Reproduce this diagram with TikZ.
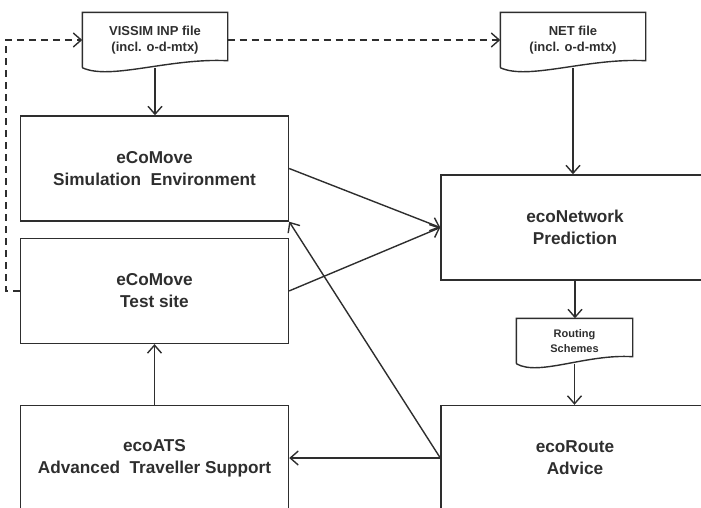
\documentclass[tikz,border=0pt]{standalone}
\usepackage{fontspec}
\setmainfont{Liberation Sans}
\usetikzlibrary{
  arrows.meta,
  calc,
  positioning,
}
\definecolor{ink}{HTML}{2E2E2E}
\tikzset{
  >={Straight Barb[length=8pt,width=14pt]},
  wire/.style={draw=ink, line width=1.4pt},
  block/.style={wire, minimum width=268pt, minimum height=105pt, align=center,
    text=ink, font=\bfseries\fontsize{17.2}{22}\selectfont},
  doc/.style={align=center, text=ink, inner sep=0pt,
    font=\bfseries\fontsize{13}{16}\selectfont,
    append after command={(\tikzlastnode.south west) -- (\tikzlastnode.north west)
      -- (\tikzlastnode.north east) -- ($(\tikzlastnode.south east)+(0,-7)$)
      .. controls ($(\tikzlastnode.south east)!0.4!(\tikzlastnode.south west)+(0,-10)$)
      and ($(\tikzlastnode.south west)!0.19!(\tikzlastnode.south east)+(0,13)$)
      .. (\tikzlastnode.south west)}},
}

\begin{document}
\begin{tikzpicture}[x=1pt,y=-1pt]
      \useasboundingbox (0,0) rectangle (701,507);
      \clip (0,0) rectangle (701,507);

      % blocks
      \node[block] (simenv) at (154.5,168.5) {eCoMove\\Simulation~ Environment};
      \node[block, below=16pt of simenv] (testsite) {eCoMove\\Test site};
      \node[block] (network) at (575,227.5) {ecoNetwork\\Prediction};
      \node[block] (ats) at (154.5,458) {ecoATS\\Advanced~ Traveller Support};
      \node[block] (route) at (575,458) {ecoRoute\\Advice};

      % files
      \draw[wire] (155,40) node[doc, minimum width=144pt, minimum height=54pt]
        (vissim) {VISSIM INP file\\(incl. o-d-mtx)};
      \draw[wire] (573,40) node[doc, minimum width=144pt, minimum height=54pt]
        (net) {NET file\\(incl. o-d-mtx)};
      \draw[wire] (574.5,341) node[doc, minimum width=115pt, minimum height=44pt,
        font=\bfseries\fontsize{11}{15}\selectfont] (routing) {Routing\\Schemes};

      % data flow
      \draw[wire,->] (vissim.south) -- (vissim.south |- simenv.north);
      \draw[wire,->] (net.south) -- (net.south |- network.north);
      \draw[wire,->] (network.south) -- (network.south |- routing.north);
      \draw[wire,->] (routing.south) -- (routing.south |- route.north);
      \draw[wire,->] (ats.north) -- (ats.north |- testsite.south);
      \draw[wire,->] (route.west) -- (ats.east);
      \draw[wire,->] (route.west) -- (simenv.south east);
      \draw[wire,->] (simenv.east) -- (network.west);
      \draw[wire,->] (testsite.east) -- (network.west);
      \draw[wire,->,dash pattern=on 7pt off 5pt] (testsite.west) -- ++(-14,0) |- (vissim.west);
      \draw[wire,->,dash pattern=on 7pt off 5pt] (vissim.east) -- (net.west);
    \end{tikzpicture}
\end{document}
